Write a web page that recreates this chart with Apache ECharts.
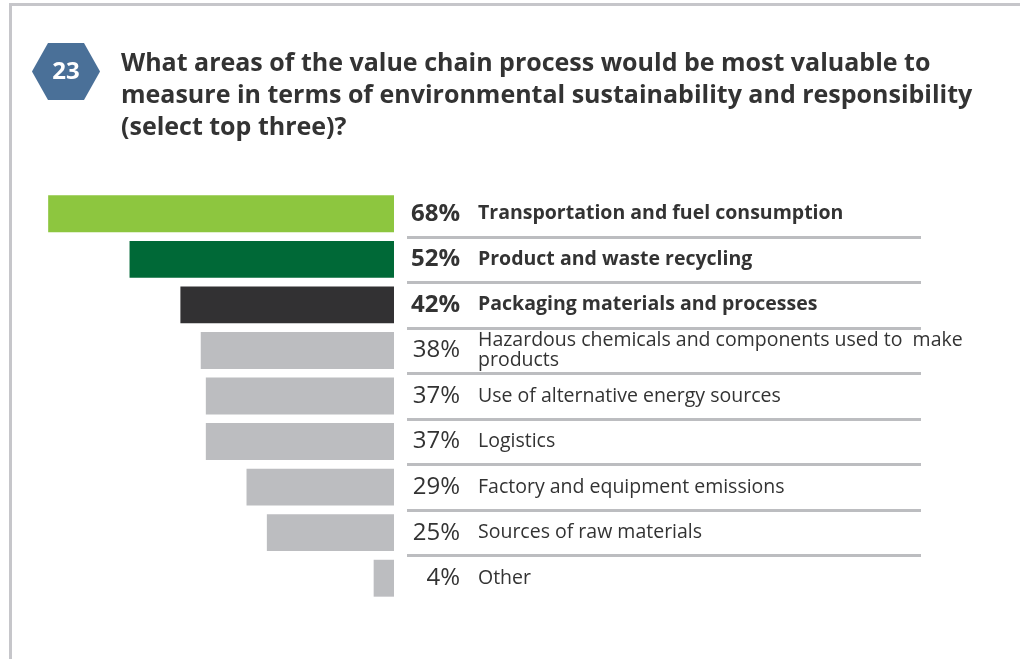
<!DOCTYPE html>
<html>
<head>
<meta charset="utf-8">
<script src="https://cdn.jsdelivr.net/npm/echarts@6/dist/echarts.min.js"></script>
<style>
  html, body { margin: 0; padding: 0; background: #ffffff; }
  #chart { width: 1020px; height: 659px; }
</style>
</head>
<body>
<div id="chart"></div>
<script>
// ---- data ----
const questionNumber = '23';
const titleText = 'What areas of the value chain process would be most valuable to\nmeasure in terms of environmental sustainability and responsibility\n(select top three)?';
const categories = [
  'Transportation and fuel consumption',
  'Product and waste recycling',
  'Packaging materials and processes',
  'Hazardous chemicals and components used to  make\nproducts',
  'Use of alternative energy sources',
  'Logistics',
  'Factory and equipment emissions',
  'Sources of raw materials',
  'Other'
];
const values = [68, 52, 42, 38, 37, 37, 29, 25, 4];
const highlightCount = 3;
const barColors = ['#8dc63f', '#006937', '#323133', '#bcbdc0', '#bcbdc0', '#bcbdc0', '#bcbdc0', '#bcbdc0', '#bcbdc0'];

// ---- chart ----
const chart = echarts.init(document.getElementById('chart'), null, { renderer: 'canvas' });
const FONT = '"Open Sans", "Noto Sans", sans-serif';
const TEXT = '#333333';

const option = {
  backgroundColor: '#ffffff',
  animation: false,
  graphic: [
    { type: 'line', shape: { x1: 9, y1: 4.5, x2: 1020, y2: 4.5 }, style: { stroke: '#c6c6ca', lineWidth: 3 } },
    { type: 'line', shape: { x1: 10.5, y1: 3, x2: 10.5, y2: 659 }, style: { stroke: '#c6c6ca', lineWidth: 3 } },
    { type: 'polygon', shape: { points: [[32, 71.5], [48, 43], [84, 43], [100, 71.5], [84, 100], [48, 100]] }, style: { fill: '#4a7098' } },
    { type: 'text', x: 66, y: 72, style: { text: questionNumber, fill: '#ffffff', font: 'bold 24px ' + FONT, align: 'center', verticalAlign: 'middle' } },
    { type: 'text', left: 121, top: 48, style: { text: titleText, fill: TEXT, font: 'bold 25px ' + FONT, lineHeight: 32 } }
  ],
  grid: [
    { left: 38, right: 626, top: 191, bottom: 58, containLabel: false },
    { left: 407, right: 99, top: 191, bottom: 58, containLabel: false }
  ],
  xAxis: [
    { type: 'value', gridIndex: 0, min: 0, max: 70, inverse: true, show: false },
    { type: 'value', gridIndex: 1, min: 0, max: 1, show: false }
  ],
  yAxis: [
    { type: 'category', gridIndex: 0, data: categories, inverse: true, show: false },
    {
      type: 'category', gridIndex: 1, data: categories, inverse: true,
      axisLine: { show: false }, axisTick: { show: false }, splitLine: { show: false },
      axisLabel: {
        inside: true, margin: 71, align: 'left',
        formatter: function (v, i) { return i < highlightCount ? '{b|' + v + '}' : '{r|' + v + '}'; },
        rich: {
          b: { fontFamily: FONT, fontWeight: 'bold', fontSize: 19.5, color: TEXT },
          r: { fontFamily: FONT, fontWeight: 'normal', fontSize: 19.5, color: TEXT, lineHeight: 20 }
        }
      }
    }
  ],
  series: [
    {
      type: 'bar', xAxisIndex: 0, yAxisIndex: 0, barWidth: '81%',
      data: values.map(function (v, i) { return { value: v, itemStyle: { color: barColors[i] } }; }),
      label: {
        show: true, position: 'right', distance: 6,
        formatter: function (p) { return p.dataIndex < highlightCount ? '{b|' + p.value + '%}' : '{r|' + p.value + '%}'; },
        rich: {
          b: { width: 60, align: 'right', fontFamily: FONT, fontWeight: 'bold', fontSize: 24, color: TEXT },
          r: { width: 60, align: 'right', fontFamily: FONT, fontWeight: 'normal', fontSize: 24, color: TEXT }
        }
      }
    },
    {
      type: 'custom', xAxisIndex: 1, yAxisIndex: 1, silent: true,
      data: categories.slice(0, categories.length - 1).map(function (c, i) { return [0, i]; }),
      renderItem: function (params, api) {
        const cs = params.coordSys;
        const center = api.coord([0, api.value(1)]);
        const band = api.size([0, 1])[1];
        const y = Math.round(center[1] + band / 2) + 0.5;
        return { type: 'line', shape: { x1: cs.x, y1: y, x2: cs.x + cs.width, y2: y }, style: { stroke: '#bcbdc0', lineWidth: 3 } };
      }
    }
  ]
};
chart.setOption(option);
</script>
</body>
</html>
